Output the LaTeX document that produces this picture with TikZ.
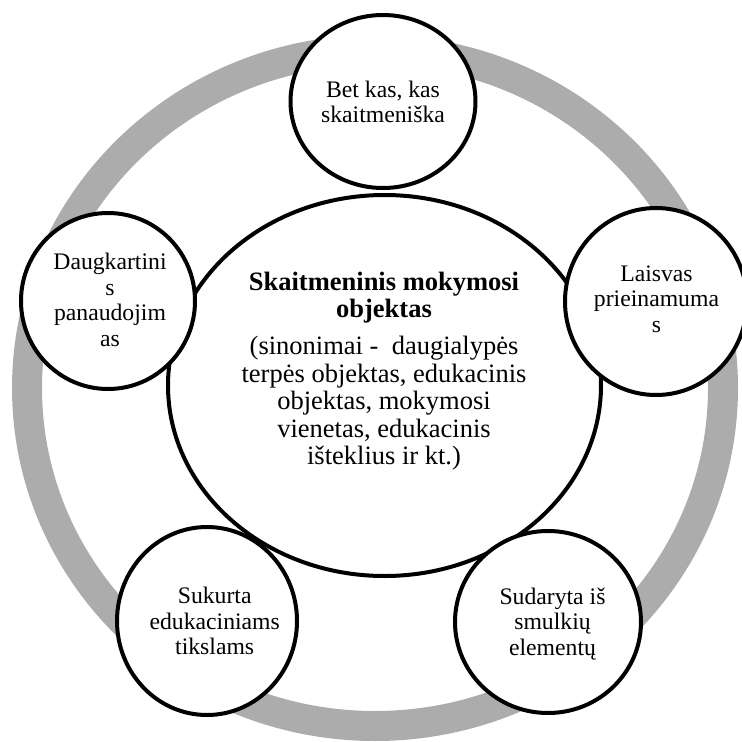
\documentclass[tikz,border=0pt]{standalone}
\usepackage{fontspec}
\setmainfont{Liberation Serif}
\usetikzlibrary{shapes.geometric}
\definecolor{ringgray}{RGB}{172,172,172}
\begin{document}
\begin{tikzpicture}[x=1pt,y=-1pt,
  bubble/.style={ellipse, draw=black, line width=4pt, fill=white, inner sep=0pt},
  smalltext/.style={align=center, inner sep=0pt, font=\fontsize{23.7}{25.5}\selectfont},
  titletext/.style={align=center, inner sep=0pt, font=\bfseries\fontsize{26.5}{26.7}\selectfont},
  bodytext/.style={align=center, inner sep=0pt, font=\fontsize{26.5}{27.5}\selectfont}]
\useasboundingbox (0,0) rectangle (742,742);

% outer grey ring
\draw[ringgray, line width=30pt] (375,388) ellipse [x radius=348pt, y radius=338pt];

% central object
\node[bubble, minimum width=433pt, minimum height=381pt] (core) at (384.5,385.5) {};

% five property bubbles
\node[bubble, minimum width=185pt, minimum height=173pt] (top)   at (383,101.5) {};
\node[bubble, minimum width=174pt, minimum height=176pt] (left)  at (108,301)   {};
\node[bubble, minimum width=182pt, minimum height=187pt] (right) at (656,301.5) {};
\node[bubble, minimum width=180pt, minimum height=188pt] (botl)  at (207,621)   {};
\node[bubble, minimum width=186pt, minimum height=182pt] (botr)  at (548,622)   {};

% labels
\node[titletext] (coretitle) at (384,297.3) {Skaitmeninis mokymosi\\objektas};
\node[bodytext]  (corebody)  at (384,403.2) {(sinonimai - \ daugialypės\\terpės objektas, edukacinis\\objektas, mokymosi\\vienetas, edukacinis\\išteklius ir kt.)};
\node[smalltext] (toptext)   at (383,102)   {Bet kas, kas\\skaitmeniška};
\node[smalltext] (lefttext)  at (110,299.9) {Daugkartini\\s\\panaudojim\\as};
\node[smalltext] (righttext) at (656.5,299.2) {Laisvas\\prieinamuma\\s};
\node[smalltext] (botltext)  at (214.7,621.2) {Sukurta\\edukaciniams\\tikslams};
\node[smalltext] (botrtext)  at (552.5,623.6) {Sudaryta iš\\smulkių\\elementų};
\end{tikzpicture}
\end{document}
